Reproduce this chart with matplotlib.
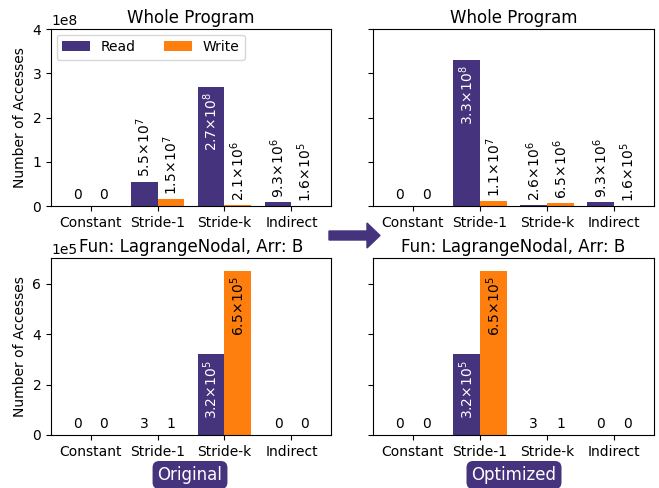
import matplotlib
matplotlib.use("Agg")
import matplotlib.pyplot as plt
from matplotlib.patches import FancyArrow
import numpy as np

categories = ["Constant", "Stride-1", "Stride-k", "Indirect"]

# Whole program access counts
orig_whole_read = [0, 5.5e7, 2.7e8, 9.3e6]
orig_whole_write = [0, 1.5e7, 2.1e6, 1.6e5]
opt_whole_read = [0, 3.3e8, 2.6e6, 9.3e6]
opt_whole_write = [0, 1.1e7, 6.5e6, 1.6e5]

# LagrangeNodal, array B
orig_fun_read = [0, 3, 3.2e5, 0]
orig_fun_write = [0, 1, 6.5e5, 0]
opt_fun_read = [0, 3.2e5, 3, 0]
opt_fun_write = [0, 6.5e5, 1, 0]

READ_COLOR = "#45337d"
WRITE_COLOR = "#ff7f0e"


def fmt(v):
    if v < 1000:
        return f"{int(v)}"
    exp = int(np.floor(np.log10(v)))
    mant = v / 10 ** exp
    return rf"${mant:.1f}\!\times\!10^{{{exp}}}$"


def draw(ax, reads, writes, title, ylim):
    x = np.arange(len(categories))
    w = 0.4
    br = ax.bar(x - w / 2, reads, w, color=READ_COLOR, label="Read")
    bw = ax.bar(x + w / 2, writes, w, color=WRITE_COLOR, label="Write")
    ax.set_ylim(0, ylim)
    ax.set_xticks(x)
    ax.set_xticklabels(categories, fontsize=10)
    ax.set_title(title, fontsize=12, pad=4)
    ax.ticklabel_format(axis="y", style="sci", scilimits=(0, 0))
    for bars, vals, inside_color in ((br, reads, "white"), (bw, writes, "black")):
        for rect, v in zip(bars, vals):
            cx = rect.get_x() + rect.get_width() / 2
            txt = fmt(v)
            if v < 1000:
                ax.annotate(txt, (cx, v), xytext=(0, 3), textcoords="offset points",
                            ha="center", va="bottom", fontsize=10)
            elif v > 0.4 * ylim:
                ax.annotate(txt, (cx, v), xytext=(0, -4), textcoords="offset points",
                            ha="center", va="top", rotation=90, fontsize=10,
                            color=inside_color)
            else:
                ax.annotate(txt, (cx, v), xytext=(0, 3), textcoords="offset points",
                            ha="center", va="bottom", rotation=90, fontsize=10)


fig = plt.figure(figsize=(6.59, 4.88), dpi=100)
W, H = 659, 488


def axes_px(l, t, r, b):
    return fig.add_axes([l / W, 1 - b / H, (r - l) / W, (b - t) / H])


ax1 = axes_px(51, 29, 331, 206)
ax2 = axes_px(373, 29, 654, 206)
ax3 = axes_px(51, 258, 331, 435)
ax4 = axes_px(373, 258, 654, 435)

draw(ax1, orig_whole_read, orig_whole_write, "Whole Program", 4e8)
draw(ax2, opt_whole_read, opt_whole_write, "Whole Program", 4e8)
draw(ax3, orig_fun_read, orig_fun_write, "Fun: LagrangeNodal, Arr: B", 7.02e5)
draw(ax4, opt_fun_read, opt_fun_write, "Fun: LagrangeNodal, Arr: B", 7.02e5)

ax1.set_yticks([0, 1e8, 2e8, 3e8, 4e8])
ax2.set_yticks([0, 1e8, 2e8, 3e8, 4e8])
ax3.set_yticks([0, 2e5, 4e5, 6e5])
ax4.set_yticks([0, 2e5, 4e5, 6e5])
for ax in (ax2, ax4):
    ax.tick_params(axis="y", labelleft=False)
    ax.yaxis.get_offset_text().set_visible(False)
for ax in (ax1, ax3):
    ax.set_ylabel("Number of Accesses", fontsize=10)
    ax.tick_params(axis="y", labelsize=10)

ax1.legend(loc="upper left", ncol=2, fontsize=10, columnspacing=2.0,
           borderaxespad=0.4)

# Arrow between the two columns
fig.patches.append(FancyArrow(329 / W, 1 - 235.5 / H, 51 / W, 0,
                              width=9 / H, head_width=25 / H, head_length=13 / W,
                              length_includes_head=True, color=READ_COLOR,
                              transform=fig.transFigure, figure=fig))

# Badges under each column
for cx, label in ((190, "Original"), (514, "Optimized")):
    fig.text(cx / W, 1 - 475 / H, label, ha="center", va="center",
             fontsize=12, color="white",
             bbox=dict(boxstyle="round,pad=0.3,rounding_size=0.4",
                       fc=READ_COLOR, ec="none"))

fig.savefig("out.png", dpi=100)
